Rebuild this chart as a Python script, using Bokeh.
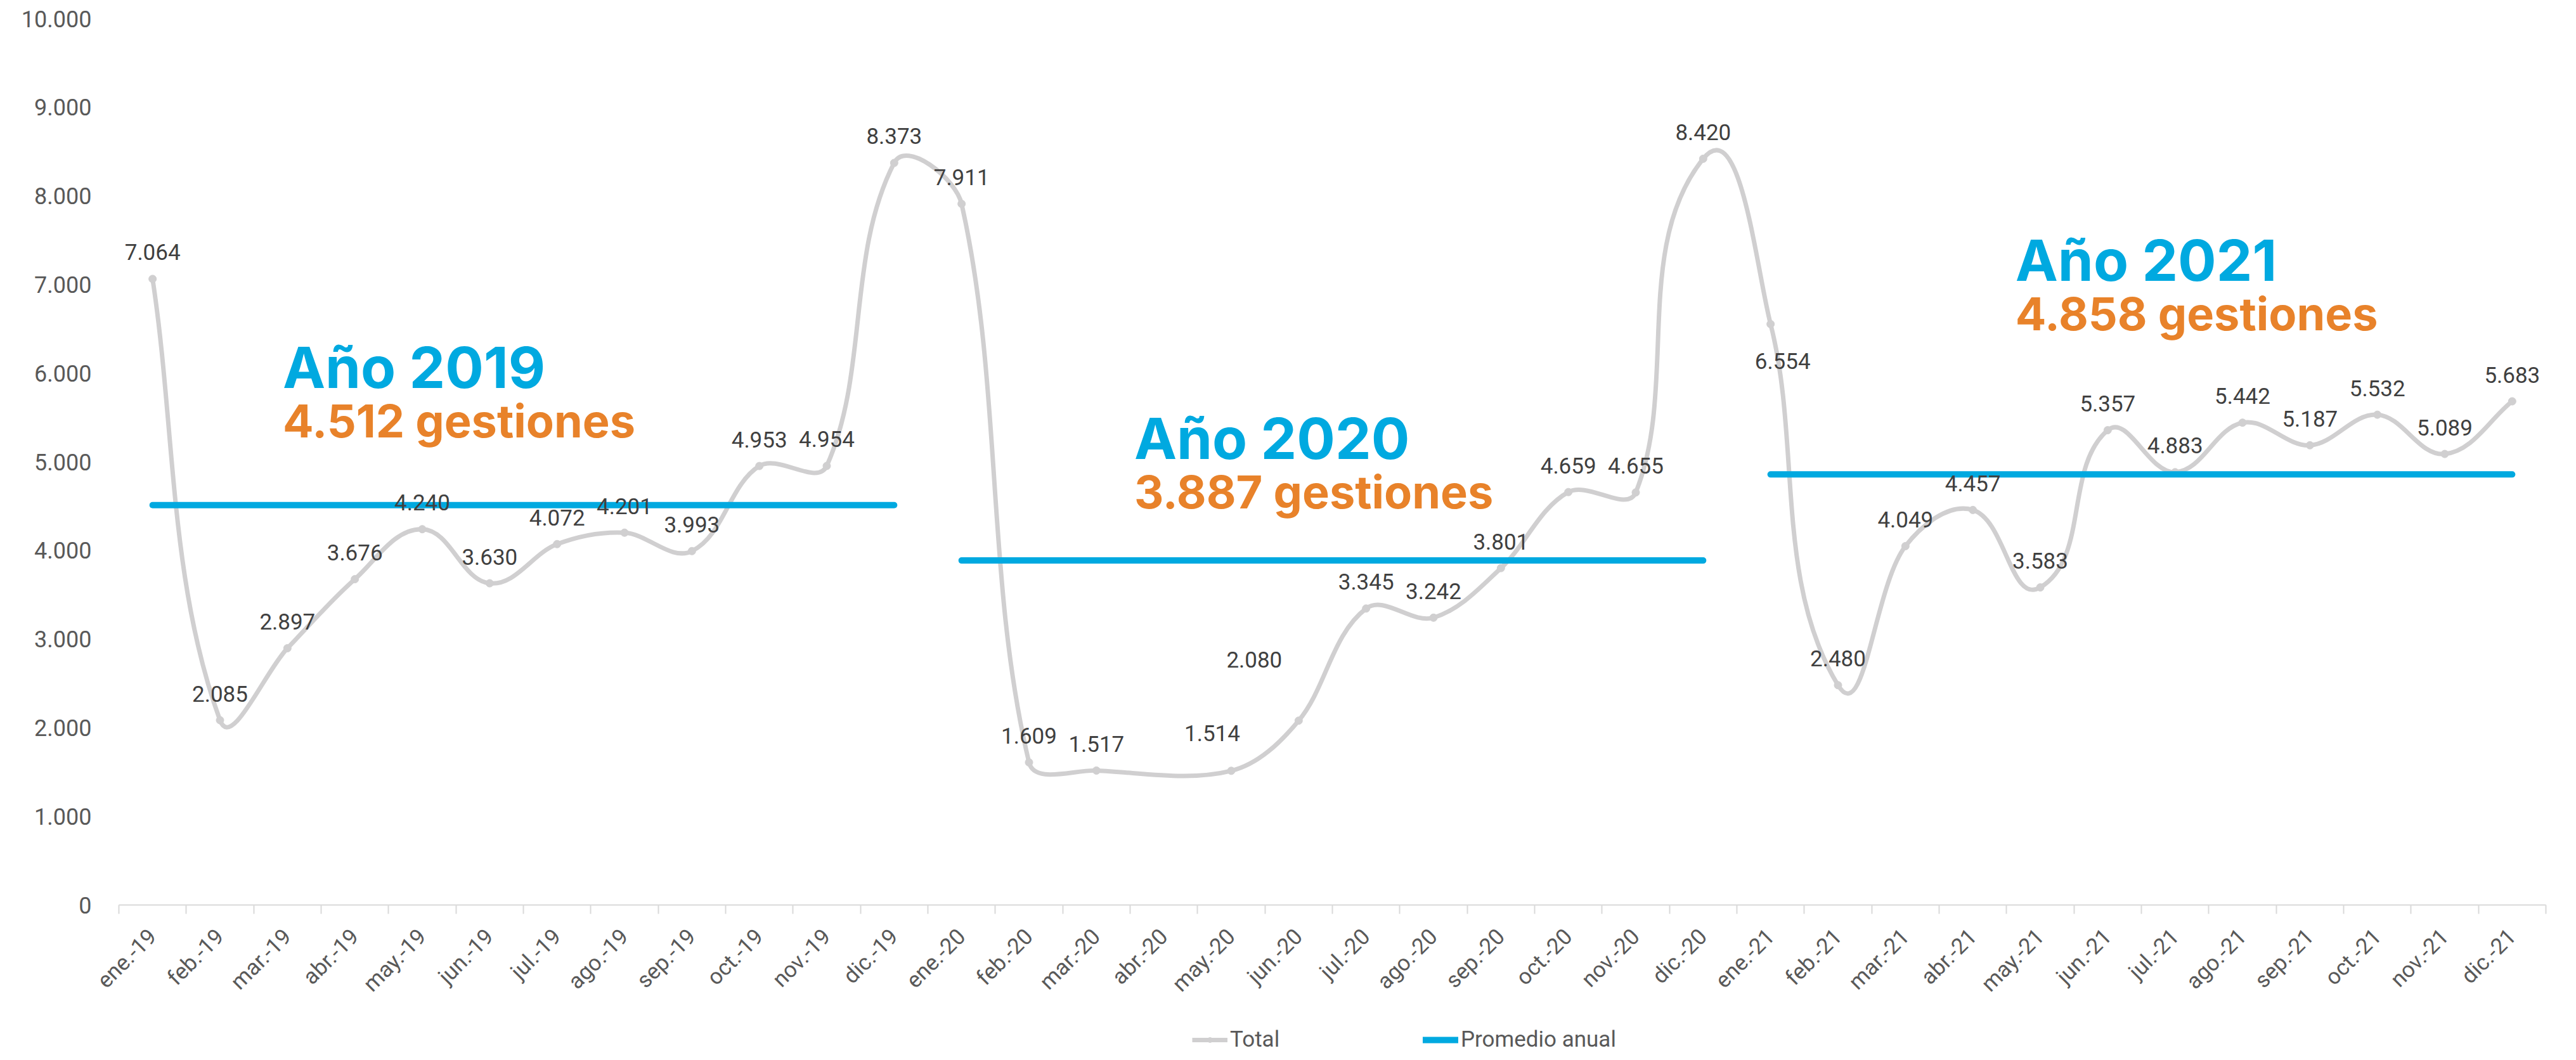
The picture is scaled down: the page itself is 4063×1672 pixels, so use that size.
import math
from bokeh.plotting import figure
from bokeh.layouts import column
from bokeh.models import Range1d, FixedTicker, Legend, LegendItem, ColumnDataSource
from bokeh.core.properties import value
from bokeh.embed import file_html
from bokeh.resources import INLINE

# ---------------- data ----------------
months = [
    "ene.-19", "feb.-19", "mar.-19", "abr.-19", "may.-19", "jun.-19",
    "jul.-19", "ago.-19", "sep.-19", "oct.-19", "nov.-19", "dic.-19",
    "ene.-20", "feb.-20", "mar.-20", "abr.-20", "may.-20", "jun.-20",
    "jul.-20", "ago.-20", "sep.-20", "oct.-20", "nov.-20", "dic.-20",
    "ene.-21", "feb.-21", "mar.-21", "abr.-21", "may.-21", "jun.-21",
    "jul.-21", "ago.-21", "sep.-21", "oct.-21", "nov.-21", "dic.-21",
]
total = [
    7064, 2085, 2897, 3676, 4240, 3630, 4072, 4201, 3993, 4953, 4954, 8373,
    7911, 1609, 1517, None, 1514, 2080, 3345, 3242, 3801, 4659, 4655, 8420,
    6554, 2480, 4049, 4457, 3583, 5357, 4883, 5442, 5187, 5532, 5089, 5683,
]
years = [2019, 2020, 2021]
promedio = [4512, 3887, 4858]
y_ticks = [0, 1000, 2000, 3000, 4000, 5000, 6000, 7000, 8000, 9000, 10000]
legend_labels = ["Total", "Promedio anual"]

# ---------------- styles / layout ----------------
GREY = "#d0cfd0"
BLUE = "#00a9e0"
ORANGE = "#e8822a"
TXT = "#404040"
AX = "#595959"
W = 4047
H1, H2 = 1607, 53
FL, FR, FT, FB = 187, 32, 29, 180
FONT = "Roboto"

def fmt(v):
    return f"{v:,}".replace(",", ".")

p = figure(width=W, height=H1, output_backend="svg", toolbar_location=None,
           x_range=Range1d(0, len(months)), y_range=Range1d(0, 10000),
           min_border_left=FL, min_border_right=FR, min_border_top=FT,
           min_border_bottom=FB)
p.outline_line_color = None
p.xgrid.visible = False
p.ygrid.visible = False
p.background_fill_color = "white"

# pixel scales (for Excel-like smoothing in screen space)
sx = (W - FL - FR) / len(months)
sy = (H1 - FT - FB) / 10000.0

# valid points (gap at abr.-20 is bridged, as in the original)
pts = [(i + 0.5, v) for i, v in enumerate(total) if v is not None]

def dist(a, b):
    return math.hypot((a[0] - b[0]) * sx, (a[1] - b[1]) * sy)

bz = {k: [] for k in ["x0", "y0", "x1", "y1", "cx0", "cy0", "cx1", "cy1"]}
for k in range(len(pts) - 1):
    P0 = pts[k - 1] if k > 0 else pts[k]
    P1 = pts[k]
    P2 = pts[k + 1]
    P3 = pts[k + 2] if k + 2 < len(pts) else P2
    d12 = dist(P1, P2)
    d02 = dist(P0, P2)
    d13 = dist(P1, P3)
    f1 = d12 / (3 * d02) if d02 else 0
    f2 = d12 / (3 * d13) if d13 else 0
    bz["x0"].append(P1[0]); bz["y0"].append(P1[1])
    bz["x1"].append(P2[0]); bz["y1"].append(P2[1])
    bz["cx0"].append(P1[0] + f1 * (P2[0] - P0[0]))
    bz["cy0"].append(P1[1] + f1 * (P2[1] - P0[1]))
    bz["cx1"].append(P2[0] - f2 * (P3[0] - P1[0]))
    bz["cy1"].append(P2[1] - f2 * (P3[1] - P1[1]))

p.bezier(source=ColumnDataSource(bz), x0="x0", y0="y0", x1="x1", y1="y1",
         cx0="cx0", cy0="cy0", cx1="cx1", cy1="cy1",
         line_color=GREY, line_width=7, line_cap="round")

mk_src = ColumnDataSource(dict(x=[q[0] for q in pts], y=[q[1] for q in pts]))
p.scatter("x", "y", source=mk_src, size=12, fill_color=GREY, line_color=GREY)

# average lines per year
avg_src = ColumnDataSource(dict(
    x0=[j * 12 + 0.5 for j in range(len(years))],
    x1=[j * 12 + 11.5 for j in range(len(years))],
    y=promedio))
p.segment(x0="x0", y0="y", x1="x1", y1="y", source=avg_src,
          line_color=BLUE, line_width=10, line_cap="round")

# data labels
special_off = {16: (-30, -59), 17: (-70, -96), 24: (19, 58)}
lab = dict(x=[], y=[], text=[], dx=[], dy=[])
for i, v in enumerate(total):
    if v is None:
        continue
    dx, dy = special_off.get(i, (0, -42))
    lab["x"].append(i + 0.5); lab["y"].append(v); lab["text"].append(fmt(v))
    lab["dx"].append(dx); lab["dy"].append(dy)
p.text("x", "y", text="text", x_offset="dx", y_offset="dy",
       source=ColumnDataSource(lab), text_font=value(FONT),
       text_font_size="35px", text_color=TXT, text_align="center",
       text_baseline="middle")

# year annotations (positions are layout constants)
anno_x = [2.43, 15.06, 28.13]
anno_title_y = [6066, 5265, 7275]
anno_sub_y = [5465, 4664, 6674]
p.text(x=anno_x, y=anno_title_y, text=[f"Año {y}" for y in years],
       text_font=value("Inter"), text_font_style="bold", text_font_size="90px",
       text_color=BLUE, text_align="left", text_baseline="alphabetic")
p.text(x=anno_x, y=anno_sub_y, text=[f"{fmt(v)} gestiones" for v in promedio],
       text_font=value("Inter"), text_font_style="bold", text_font_size="72px",
       text_color=ORANGE, text_align="left", text_baseline="alphabetic")

# axes
xa = p.xaxis[0]
xa.ticker = FixedTicker(ticks=[i + 0.5 for i in range(len(months))],
                        minor_ticks=list(range(len(months) + 1)))
xa.major_label_overrides = {i + 0.5: m for i, m in enumerate(months)}
xa.major_label_orientation = math.pi / 4
xa.major_tick_out = 0
xa.major_tick_in = 0
xa.minor_tick_out = 14
xa.minor_tick_in = 0
xa.minor_tick_line_color = "#d9d9d9"
xa.minor_tick_line_width = 2
xa.axis_line_color = "#d9d9d9"
xa.axis_line_width = 2
xa.major_label_text_font = FONT
xa.major_label_text_font_size = "35px"
xa.major_label_text_color = AX
xa.major_label_standoff = 30

ya = p.yaxis[0]
ya.ticker = FixedTicker(ticks=y_ticks)
ya.major_label_overrides = {t: fmt(t) for t in y_ticks}
ya.axis_line_color = None
ya.major_tick_line_color = None
ya.minor_tick_line_color = None
ya.major_tick_out = 0
ya.major_label_standoff = 43
ya.major_label_text_font = FONT
ya.major_label_text_font_size = "36px"
ya.major_label_text_color = AX

# ---------------- legend strip (second figure below) ----------------
p2 = figure(width=W, height=H2, output_backend="svg", toolbar_location=None,
            x_range=Range1d(0, 1), y_range=Range1d(0, 1),
            x_axis_location=None, y_axis_location=None, min_border=0)
p2.outline_line_color = None
p2.xgrid.visible = False
p2.ygrid.visible = False
nan = float("nan")
l_line = p2.line(x=[nan], y=[nan], line_color=GREY, line_width=7)
l_mark = p2.scatter(x=[nan], y=[nan], size=12, fill_color=GREY, line_color=GREY)
l_avg = p2.line(x=[nan], y=[nan], line_color=BLUE, line_width=10,
                line_cap="round")
legend = Legend(items=[LegendItem(label=legend_labels[0], renderers=[l_line, l_mark]),
                       LegendItem(label=legend_labels[1], renderers=[l_avg])],
                orientation="horizontal", location=(1693, 0),
                glyph_width=56, glyph_height=20, label_standoff=4, spacing=4,
                label_width=300, padding=0, margin=0, border_line_color=None,
                background_fill_alpha=0, label_text_font=FONT,
                label_text_font_size="35px", label_text_color=AX)
p2.add_layout(legend, "center")

layout = column(p, p2, spacing=0)
open("out.html", "w").write(file_html(layout, INLINE))
